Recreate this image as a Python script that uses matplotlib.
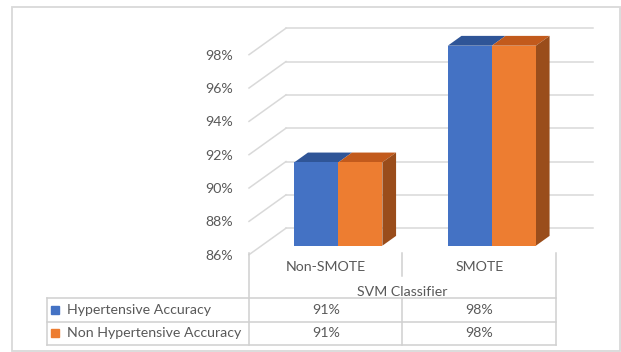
import matplotlib.pyplot as plt
from matplotlib.patches import Polygon, Rectangle

plt.rcParams['font.family'] = ['Lato', 'DejaVu Sans']

categories = ['Non-SMOTE', 'SMOTE']
series_names = ['Hypertensive Accuracy', 'Non Hypertensive Accuracy']
hyper_acc = [91, 98]
non_hyper_acc = [91, 98]
y_ticks = [86, 88, 90, 92, 94, 96, 98]
axis_title = 'SVM Classifier'

front_colors = ['#4472C4', '#ED7D31']
top_colors = ['#2F5597', '#C25A1C']
side_color = '#9A4D1B'
grid_color = '#D9D9D9'
text_color = '#595959'
fs = 10.2

W, H = 621, 352
fig = plt.figure(figsize=(W / 100, H / 100), dpi=100)

# plot area = front plane of the 3d box
ax = fig.add_axes([249 / W, 97.3 / H, 307 / W, 200 / H])
ax.set_xlim(-0.5, 1.5)
ax.set_ylim(86, 98)
for s in ax.spines.values():
    s.set_visible(False)
ax.set_xticks([])
ax.set_yticks(y_ticks)
ax.set_yticklabels([f'{t}%' for t in y_ticks], color=text_color, fontsize=fs)
ax.tick_params(axis='y', length=0, pad=11.5)

# depth of the box in data units
DX, DY = 0.241, 1.59
f0, f1 = 0.34, 0.71
base = y_ticks[0]

# back wall gridlines and left wall diagonals
for t in y_ticks:
    ax.plot([-0.5 + DX, 1.5 + DX], [t + DY, t + DY], color=grid_color, lw=1.1, clip_on=False, zorder=1)
    ax.plot([-0.5, -0.5 + DX], [t, t + DY], color=grid_color, lw=1.1, clip_on=False, zorder=1)

bar_w = 0.287
x = list(range(len(categories)))
for k, vals in enumerate([hyper_acc, non_hyper_acc]):
    lefts = [xi - bar_w + k * bar_w for xi in x]
    ax.bar([l + f0 * DX for l in lefts], [v - base for v in vals], width=bar_w,
           bottom=base + f0 * DY, align='edge', color=front_colors[k],
           clip_on=False, zorder=3)
    for l, v in zip(lefts, vals):
        r = l + bar_w
        top = [(l + f0 * DX, v + f0 * DY), (r + f0 * DX, v + f0 * DY),
               (r + f1 * DX, v + f1 * DY), (l + f1 * DX, v + f1 * DY)]
        ax.add_patch(Polygon(top, closed=True, fc=top_colors[k], ec='none', clip_on=False, zorder=2))
        if k == 1:
            side = [(r + f0 * DX, base + f0 * DY), (r + f0 * DX, v + f0 * DY),
                    (r + f1 * DX, v + f1 * DY), (r + f1 * DX, base + f1 * DY)]
            ax.add_patch(Polygon(side, closed=True, fc=side_color, ec='none', clip_on=False, zorder=2))

# data table under the chart
label_w = 1.314
tab = fig.add_axes([47.3 / W, 7 / H, 508.7 / W, 92 / H])
tab.set_xlim(-0.5 - label_w, 1.5)
tab.set_ylim(0, 3.94)
tab.axis('off')
L = -0.5 - label_w
lc = dict(color='#D0D0D0', lw=1.1, clip_on=False)
for yy in [0, 1, 2]:
    tab.plot([L, 1.5], [yy, yy], **lc)
tab.plot([L, L], [0, 2], **lc)
tab.plot([-0.5, -0.5], [0, 3.94], **lc)
tab.plot([1.5, 1.5], [0, 3.94], **lc)
tab.plot([0.5, 0.5], [0, 2], **lc)
tab.plot([0.5, 0.5], [2.955, 3.94], **lc)

for xi, c in zip(x, categories):
    tab.text(xi, 3.33, c, ha='center', va='center', color=text_color, fontsize=fs)
tab.text(0.5, 2.28, axis_title, ha='center', va='center', color=text_color, fontsize=fs)

rows = [hyper_acc, non_hyper_acc]
for r, (name, vals) in enumerate(zip(series_names, rows)):
    yc = 1.5 - r
    tab.plot([L + 0.05], [yc], marker='s', ms=5.2, color=front_colors[r], clip_on=False)
    tab.text(L + 0.126, yc, name, ha='left', va='center', color=text_color, fontsize=fs)
    for xi, v in zip(x, vals):
        tab.text(xi, yc, f'{v}%', ha='center', va='center', color=text_color, fontsize=fs)

# chart area border
fig.add_artist(Rectangle((12 / W, 1.5 / H), 608 / W, 344 / H, fill=False,
                         ec='#D9D9D9', lw=1.3, transform=fig.transFigure))

fig.savefig('out.png', dpi=100)
